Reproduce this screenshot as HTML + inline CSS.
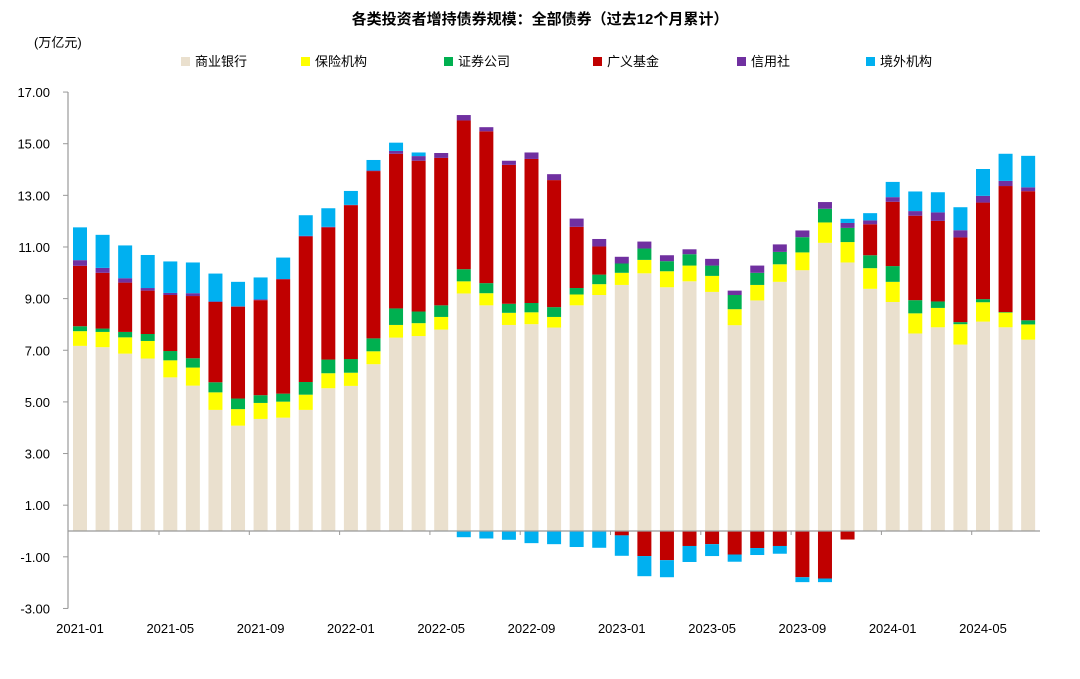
<!DOCTYPE html>
<html><head><meta charset="utf-8">
<style>
html,body{margin:0;padding:0;background:#fff;}
svg{display:block;font-family:"Liberation Sans","Noto Sans CJK SC",sans-serif;}
</style></head>
<body>
<svg id="chart" width="1080" height="679" xmlns="http://www.w3.org/2000/svg">
<text x="540" y="24" text-anchor="middle" font-size="15" font-weight="bold" fill="#000">各类投资者增持债券规模：全部债券（过去12个月累计）</text>
<text x="34" y="47" font-size="13" fill="#000">(万亿元)</text>
<g id="legend"></g>
<g id="grid"></g>
<g id="bars"></g>
<g id="axes"></g>
</svg>
<script>
const months = [];
for (let y = 2021; y <= 2024; y++) for (let m = 1; m <= 12; m++) { if (y === 2024 && m > 7) break; months.push(y + '-' + String(m).padStart(2, '0')); }
const bank = [7.17,7.12,6.87,6.68,5.95,5.63,4.69,4.08,4.34,4.39,4.69,5.53,5.62,6.46,7.49,7.55,7.80,9.20,8.74,7.98,8.01,7.88,8.74,9.14,9.53,9.98,9.44,9.67,9.26,7.97,8.93,9.65,10.10,11.16,10.40,9.38,8.87,7.65,7.89,7.22,8.11,7.89,7.41];
const insurance = [0.57,0.59,0.63,0.68,0.66,0.70,0.68,0.64,0.62,0.62,0.59,0.58,0.51,0.50,0.49,0.50,0.49,0.47,0.47,0.47,0.46,0.41,0.42,0.42,0.47,0.52,0.62,0.61,0.62,0.62,0.60,0.68,0.69,0.79,0.79,0.80,0.78,0.78,0.75,0.79,0.75,0.57,0.59];
const securities = [0.19,0.13,0.21,0.27,0.36,0.36,0.39,0.41,0.30,0.31,0.49,0.53,0.53,0.50,0.64,0.45,0.45,0.47,0.39,0.35,0.36,0.38,0.25,0.37,0.36,0.44,0.39,0.44,0.40,0.55,0.47,0.48,0.59,0.53,0.55,0.50,0.61,0.51,0.25,0.08,0.12,0.02,0.16];
const funds = [2.34,2.16,1.91,1.68,2.17,2.41,3.11,3.56,3.68,4.43,5.64,5.12,5.96,6.48,5.99,5.84,5.71,5.76,5.88,5.38,5.58,4.92,2.37,1.09,-0.17,-0.97,-1.13,-0.58,-0.51,-0.91,-0.66,-0.58,-1.79,-1.84,-0.33,1.20,2.49,3.27,3.12,3.28,3.74,4.88,5.00];
const coop = [0.22,0.19,0.17,0.10,0.08,0.11,0.02,0.01,0.03,0.01,0.02,0.02,0.01,0.02,0.11,0.18,0.19,0.21,0.16,0.16,0.25,0.23,0.32,0.29,0.26,0.27,0.23,0.19,0.26,0.17,0.28,0.29,0.26,0.26,0.19,0.15,0.18,0.18,0.33,0.28,0.26,0.20,0.15];
const foreign = [1.27,1.28,1.27,1.28,1.22,1.19,1.08,0.95,0.85,0.83,0.80,0.72,0.54,0.41,0.32,0.14,-0.02,-0.24,-0.29,-0.34,-0.47,-0.51,-0.62,-0.65,-0.79,-0.78,-0.66,-0.62,-0.46,-0.28,-0.27,-0.30,-0.19,-0.14,0.16,0.28,0.59,0.76,0.78,0.89,1.04,1.05,1.22];
const seriesNames = ['商业银行','保险机构','证券公司','广义基金','信用社','境外机构'];
const yTicks = [17,15,13,11,9,7,5,3,1,-1,-3];
const xLabelIdx = [0,4,8,12,16,20,24,28,32,36,40];

const NS = 'http://www.w3.org/2000/svg';
const colors = ['#EAE0CE','#FFFF00','#00B050','#C00000','#7030A0','#00B0F0'];
const slugs = ['commercial-bank','insurance','securities','broad-funds','credit-coop','foreign'];
const data = [bank, insurance, securities, funds, coop, foreign];
const y0 = 531, pxPerUnit = 25.82;
function yScale(v){ return y0 - v * pxPerUnit; }
const x0 = 80, step = 22.575, bw = 14;
function xScale(i){ return x0 + i * step; }
function mk(tag, attrs, parent){ const e = document.createElementNS(NS, tag); for (const k in attrs) e.setAttribute(k, attrs[k]); parent.appendChild(e); return e; }

// legend
const leg = document.getElementById('legend');
const legX = [181, 301, 444, 593, 737, 866];
seriesNames.forEach((n, k) => {
  const g = mk('g', {}, leg);
  
  
  mk('rect', {x: legX[k], y: 57, width: 9, height: 9, fill: colors[k]}, g);
  const t = mk('text', {x: legX[k] + 14, y: 66, 'font-size': 13, fill: '#000'}, g);
  t.textContent = n;
});

// bars
const bars = document.getElementById('bars');
months.forEach((m, i) => {
  let pos = 0, neg = 0;
  data.forEach((arr, k) => {
    const v = arr[i];
    if (!v) return;
    let yTop, h;
    if (v >= 0) { yTop = yScale(pos + v); h = v * pxPerUnit; pos += v; }
    else { yTop = yScale(neg); h = -v * pxPerUnit; neg += v; }
    const r = mk('rect', {x: (xScale(i) - bw / 2).toFixed(2), y: yTop.toFixed(2), width: bw, height: h.toFixed(2), fill: colors[k]}, bars);
    
    
  });
});

// axes
const ax = document.getElementById('axes');
const yAxis = mk('line', {x1: 68, y1: yScale(17), x2: 68, y2: yScale(-3), stroke: '#999', 'stroke-width': 1.2}, ax);


yTicks.forEach(v => {
  mk('line', {x1: 63, y1: yScale(v), x2: 68, y2: yScale(v), stroke: '#999'}, ax);
  const t = mk('text', {x: 50, y: yScale(v) + 5, 'text-anchor': 'end', 'font-size': 13, fill: '#000'}, ax);
  
  
  t.textContent = v.toFixed(2);
});
const xAxis = mk('line', {x1: 68, y1: y0, x2: 1040, y2: y0, stroke: '#999', 'stroke-width': 1.2}, ax);


for (let i = 4; i < months.length; i += 4) {
  const xt = xScale(i - 0.5);
  mk('line', {x1: xt, y1: y0, x2: xt, y2: y0 + 4, stroke: '#999'}, ax);
}
xLabelIdx.forEach(i => {
  const t = mk('text', {x: xScale(i), y: 633, 'text-anchor': 'middle', 'font-size': 13, fill: '#000'}, ax);
  
  
  t.textContent = months[i];
});
</script>
</body></html>
